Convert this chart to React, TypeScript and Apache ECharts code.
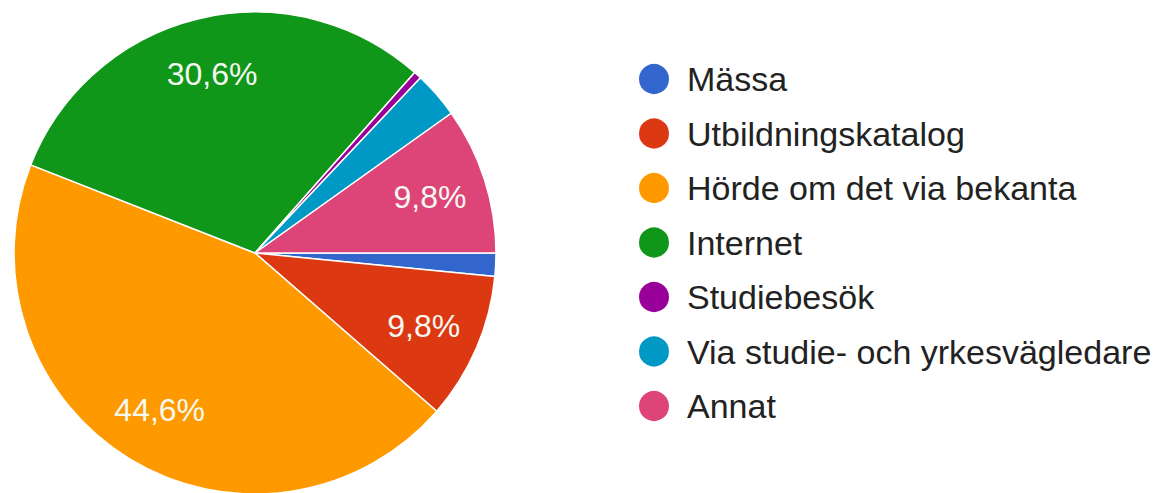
import React, { useEffect, useRef } from "react";
import * as echarts from "echarts";

const categories = [
  "Mässa",
  "Utbildningskatalog",
  "Hörde om det via bekanta",
  "Internet",
  "Studiebesök",
  "Via studie- och yrkesvägledare",
  "Annat",
];
const counts = [3, 19, 86, 59, 1, 6, 19];
const colors = ["#3366cc", "#dc3912", "#ff9900", "#109618", "#990099", "#0099c6", "#dd4477"];

export default function App() {
  const ref = useRef<HTMLDivElement>(null);
  useEffect(() => {
    document.body.style.margin = "0";
    const chart = echarts.init(ref.current!, undefined, { renderer: "svg" });
    const total = counts.reduce((a, b) => a + b, 0);
    const data = categories.map((name, i) => ({
      name,
      value: counts[i],
      itemStyle: { color: colors[i] },
    }));
    chart.setOption({
      animation: false,
      backgroundColor: "#ffffff",
      legend: {
        orient: "vertical",
        left: 632,
        top: 57,
        icon: "circle",
        itemWidth: 32,
        itemHeight: 32,
        itemGap: 20.5,
        selectedMode: false,
        data: categories,
        textStyle: {
          fontFamily: "Liberation Sans, Arial, sans-serif",
          fontSize: 34,
          color: "#222222",
          padding: [0, 0, 0, 12],
        },
      },
      series: [
        {
          type: "pie",
          center: [255, 253],
          radius: [0, 241],
          startAngle: 0,
          clockwise: true,
          avoidLabelOverlap: false,
          silent: true,
          label: { show: false },
          labelLine: { show: false },
          itemStyle: { borderColor: "#ffffff", borderWidth: 1.5 },
          data,
        },
        {
          type: "pie",
          center: [255, 253],
          radius: [120.5, 241],
          startAngle: 0,
          clockwise: true,
          avoidLabelOverlap: false,
          silent: true,
          legendHoverLink: false,
          itemStyle: { color: "rgba(0,0,0,0)", borderWidth: 0 },
          labelLine: { show: false },
          label: {
            show: true,
            position: "inside",
            fontFamily: "Liberation Sans, Arial, sans-serif",
            fontSize: 32,
            color: "#f6f8f2",
            formatter: (p: any) => {
              const pct = (p.value / total) * 100;
              if (pct < 5) return "";
              return pct.toFixed(1).replace(".", ",") + "%";
            },
          },
          data: categories.map((name, i) => ({
            name: name + "_lbl",
            value: counts[i],
          })),
        },
      ],
    });
    return () => chart.dispose();
  }, []);
  return <div ref={ref} style={{ width: 1166, height: 493 }} />;
}
